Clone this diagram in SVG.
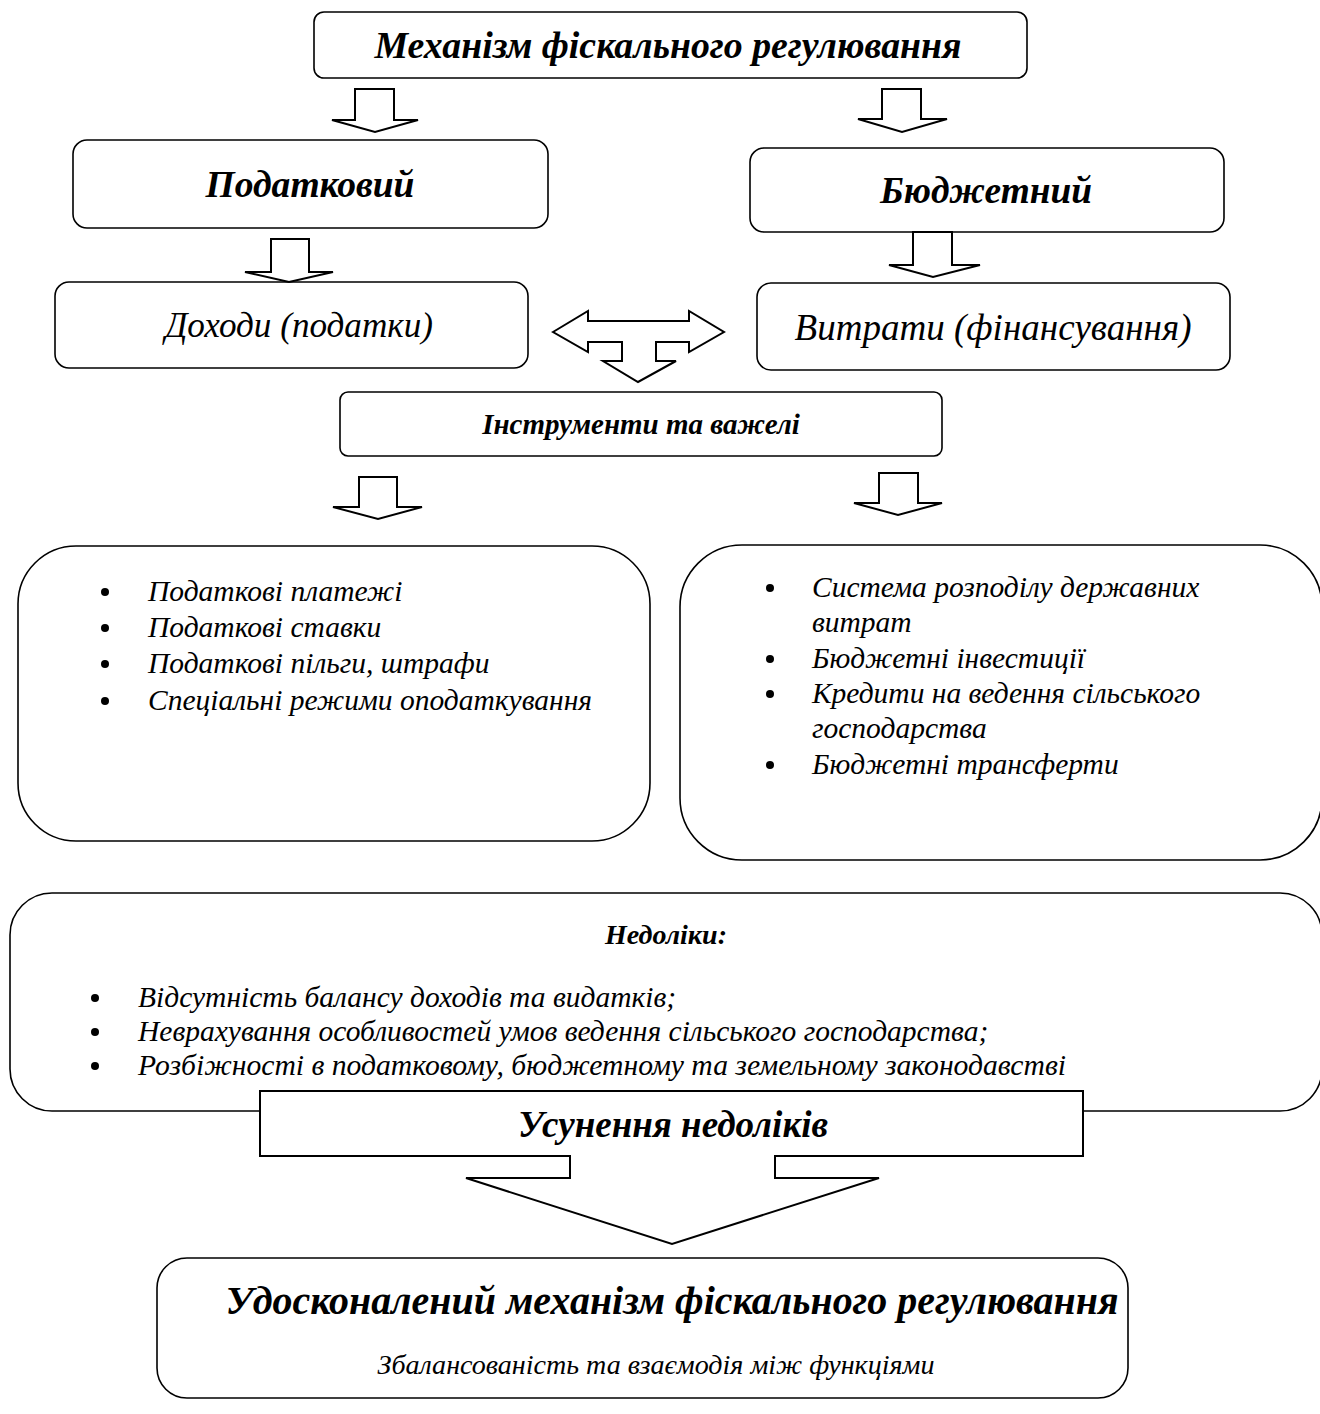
<svg xmlns="http://www.w3.org/2000/svg" width="1320" height="1414" viewBox="0 0 1320 1414">
<style>
.box{fill:#fff;stroke:#000;stroke-width:1.6}
.arr{fill:#fff;stroke:#000;stroke-width:2;stroke-linejoin:miter}
text{font-family:"Liberation Serif","Times New Roman",serif;font-style:italic;fill:#000}
.b{font-weight:bold}
.c{text-anchor:middle}
.big{font-size:38px}
.item{font-size:29.5px}
</style>
<rect width="1320" height="1414" fill="#fff"/>
<g id="n-title"><rect class="box" x="314" y="12" width="713" height="66" rx="10"/><text class="b c big" x="668" y="58" textLength="587" lengthAdjust="spacingAndGlyphs">Механізм фіскального регулювання</text></g>
<g id="n-tax"><rect class="box" x="73" y="140" width="475" height="88" rx="14"/><text class="b c big" x="310" y="197" textLength="209" lengthAdjust="spacingAndGlyphs">Податковий</text></g>
<g id="n-budget"><rect class="box" x="750" y="148" width="474" height="84" rx="14"/><text class="b c big" x="986" y="203" textLength="212" lengthAdjust="spacingAndGlyphs">Бюджетний</text></g>
<g id="n-income"><rect class="box" x="55" y="282" width="473" height="86" rx="14"/><text class="c" style="font-size:36px" x="299" y="337" textLength="268" lengthAdjust="spacingAndGlyphs">Доходи (податки)</text></g>
<g id="n-spend"><rect class="box" x="757" y="283" width="473" height="87" rx="14"/><text class="c" style="font-size:37px" x="993" y="340" textLength="397" lengthAdjust="spacingAndGlyphs">Витрати (фінансування)</text></g>
<g id="n-tools"><rect class="box" x="340" y="392" width="602" height="64" rx="8"/><text class="b c" style="font-size:29px" x="641" y="434">Інструменти та важелі</text></g>
<g id="n-taxlist"><rect class="box" x="18" y="546" width="632" height="295" rx="58"/>
<circle cx="105" cy="592" r="4"/><circle cx="105" cy="628" r="4"/><circle cx="105" cy="664" r="4"/><circle cx="105" cy="701" r="4"/>
<text class="item" x="148" y="601">Податкові платежі</text>
<text class="item" x="148" y="637">Податкові ставки</text>
<text class="item" x="148" y="673">Податкові пільги, штрафи</text>
<text class="item" x="148" y="710">Спеціальні режими оподаткування</text></g>
<g id="n-budlist"><rect class="box" x="680" y="545" width="642" height="315" rx="62"/>
<circle cx="770" cy="588" r="4"/><circle cx="770" cy="659" r="4"/><circle cx="770" cy="694" r="4"/><circle cx="770" cy="765" r="4"/>
<text class="item" x="812" y="597">Система розподілу державних</text>
<text class="item" x="812" y="632">витрат</text>
<text class="item" x="812" y="668">Бюджетні інвестиції</text>
<text class="item" x="812" y="703">Кредити на ведення сільського</text>
<text class="item" x="812" y="738">господарства</text>
<text class="item" x="812" y="774">Бюджетні трансферти</text></g>
<g id="n-flaws"><rect class="box" x="10" y="893" width="1312" height="218" rx="42"/>
<text class="b c" style="font-size:28px" x="666" y="944">Недоліки:</text>
<circle cx="95" cy="998" r="4"/><circle cx="95" cy="1032" r="4"/><circle cx="95" cy="1066" r="4"/>
<text class="item" x="138" y="1007">Відсутність балансу доходів та видатків;</text>
<text class="item" x="138" y="1041">Неврахування особливостей умов ведення сільського господарства;</text>
<text class="item" x="138" y="1075" textLength="928" lengthAdjust="spacingAndGlyphs">Розбіжності в податковому, бюджетному та земельному законодавстві</text></g>
<g id="n-improved"><rect class="box" x="157" y="1258" width="971" height="140" rx="30"/>
<text class="b c" style="font-size:40px" x="672" y="1314" textLength="893" lengthAdjust="spacingAndGlyphs">Удосконалений механізм фіскального регулювання</text>
<text class="c" style="font-size:28px" x="656" y="1374" textLength="557" lengthAdjust="spacingAndGlyphs">Збалансованість та взаємодія між функціями</text></g>
<g id="connectors">
<polygon class="arr" points="355,89 394,89 394,120 418,120 375,132 332,120 355,120"/>
<polygon class="arr" points="882,89 921,89 921,119 947,119 902,132 858,119 882,119"/>
<polygon class="arr" points="271,239 309,239 309,272 333,272 289,282 245,272 271,272"/>
<polygon class="arr" points="913,232 952,232 952,265 980,265 933,277 889,265 913,265"/>
<polygon class="arr" points="553,332 588,311 588,321 689,321 689,311 724,332 689,352 689,342 656,342 656,361 676,361 638,382 603,361 622,361 622,342 588,342 588,352"/>
<polygon class="arr" points="359,477 397,477 397,507 422,507 378,519 333,507 359,507"/>
<polygon class="arr" points="879,473 918,473 918,503 942,503 898,515 854,503 879,503"/>
<g id="n-fix"><polygon class="arr" points="260,1091 1083,1091 1083,1156 775,1156 775,1178 879,1178 672,1244 466,1178 570,1178 570,1156 260,1156"/>
<text class="b c" style="font-size:38px" x="673" y="1137" textLength="310" lengthAdjust="spacingAndGlyphs">Усунення недоліків</text></g>
</g>
</svg>
